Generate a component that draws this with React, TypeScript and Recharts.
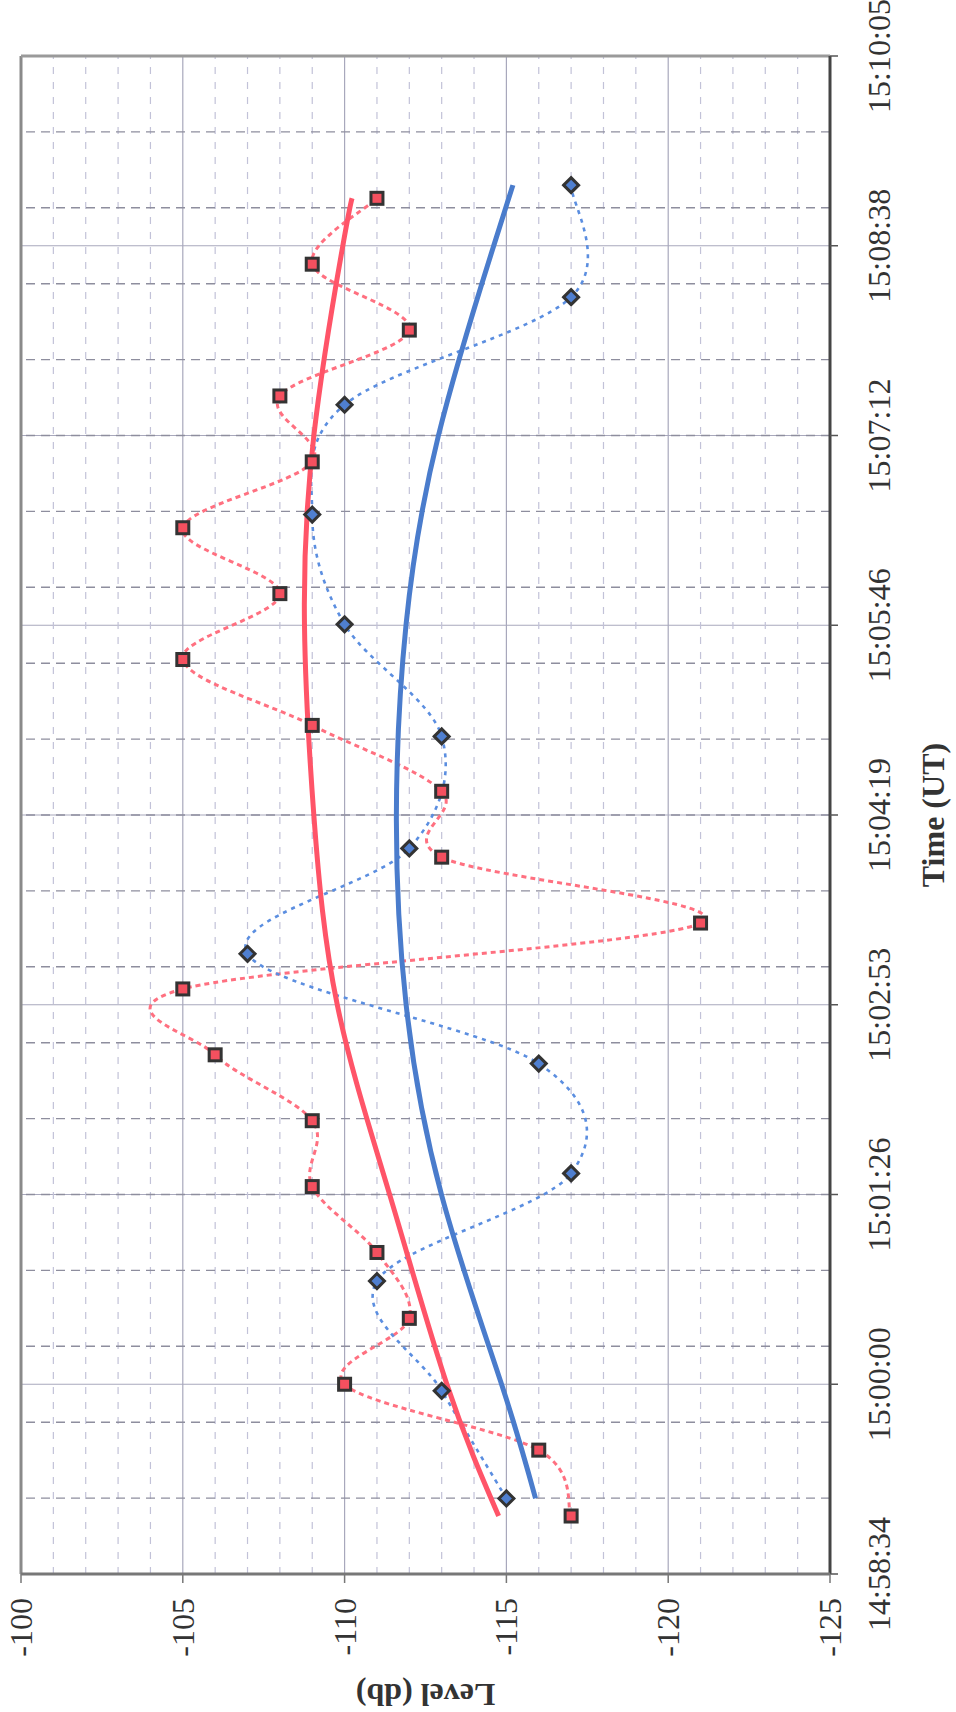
import React from "react";
import { ComposedChart, Line, XAxis, YAxis, CartesianGrid, ReferenceLine } from "recharts";

const redTimes = [
  "14:59:00", "14:59:30", "15:00:00", "15:00:30", "15:01:00", "15:01:30", "15:02:00",
  "15:02:30", "15:03:00", "15:03:30", "15:04:00", "15:04:30", "15:05:00", "15:05:30",
  "15:06:00", "15:06:30", "15:07:00", "15:07:30", "15:08:00", "15:08:30", "15:09:00",
];
const redLevels = [
  -117, -116, -110, -112, -111, -109, -109, -106, -105, -121, -113, -113, -109, -105,
  -108, -105, -109, -108, -112, -109, -111,
];

const blueTimes = [
  "14:59:08", "14:59:57", "15:00:47", "15:01:36", "15:02:26", "15:03:16", "15:04:04",
  "15:04:55", "15:05:46", "15:06:36", "15:07:26", "15:08:15", "15:09:06",
];
const blueLevels = [-115, -113, -111, -117, -116, -107, -112, -113, -110, -109, -110, -117, -117];

// polynomial trendlines
const redTrendTimes = ["14:59:00", "15:00:00", "15:01:26", "15:02:53", "15:04:19", "15:05:46", "15:07:12", "15:08:38", "15:09:00"];
const redTrendLevels = [-114.76, -113.16, -111.4, -109.77, -109.05, -108.76, -109.05, -109.94, -110.23];
const blueTrendTimes = ["14:59:08", "15:00:00", "15:01:26", "15:02:53", "15:04:19", "15:05:46", "15:07:12", "15:08:38", "15:09:06"];
const blueTrendLevels = [-115.9, -114.85, -113.0, -111.9, -111.6, -111.9, -112.9, -114.6, -115.2];

// axis: Excel day fractions
const majorDays = [0.624, 0.625, 0.626, 0.627, 0.628, 0.629, 0.63, 0.631, 0.632];
const minorDays = [
  0.6244, 0.6248, 0.6252, 0.6256, 0.626, 0.6264, 0.6268, 0.6272, 0.6276, 0.628,
  0.6284, 0.6288, 0.6292, 0.6296, 0.63, 0.6304, 0.6308, 0.6312, 0.6316,
];
const levelTicks = [-125, -120, -115, -110, -105, -100];
const levelMinor = [
  -124, -123, -122, -121, -119, -118, -117, -116, -114, -113, -112, -111,
  -109, -108, -107, -106, -104, -103, -102, -101,
];

const DAY = 86400;
const toSec = (s: string) => {
  const [h, m, x] = s.split(":").map(Number);
  return h * 3600 + m * 60 + x;
};
const fmt = (v: number) => {
  const s = Math.round(v);
  const p = (n: number) => String(n).padStart(2, "0");
  return `${p(Math.floor(s / 3600))}:${p(Math.floor((s % 3600) / 60))}:${p(s % 60)}`;
};
const zip = (ts: string[], vs: number[]) => ts.map((t, i) => ({ t: toSec(t), v: vs[i] }));

const red = zip(redTimes, redLevels);
const blue = zip(blueTimes, blueLevels);
const redTrend = zip(redTrendTimes, redTrendLevels);
const blueTrend = zip(blueTrendTimes, blueTrendLevels);
const majorSec = majorDays.map((d) => d * DAY);
const minorSec = minorDays.map((d) => d * DAY);

// Excel-like smoothed line (Catmull-Rom bezier)
function excelSmooth(ctx: any) {
  let pts: number[][] = [];
  return {
    areaStart() {},
    areaEnd() {},
    lineStart() {
      pts = [];
    },
    point(x: number, y: number) {
      pts.push([+x, +y]);
    },
    lineEnd() {
      if (!pts.length) return;
      ctx.moveTo(pts[0][0], pts[0][1]);
      for (let i = 0; i < pts.length - 1; i++) {
        const p0 = pts[i - 1] || pts[i];
        const p1 = pts[i];
        const p2 = pts[i + 1];
        const p3 = pts[i + 2] || p2;
        ctx.bezierCurveTo(
          p1[0] + (p2[0] - p0[0]) / 6,
          p1[1] + (p2[1] - p0[1]) / 6,
          p2[0] - (p3[0] - p1[0]) / 6,
          p2[1] - (p3[1] - p1[1]) / 6,
          p2[0],
          p2[1]
        );
      }
    },
  };
}

const font = "'Liberation Serif', 'Times New Roman', serif";

const Square = (props: any) => {
  const { cx, cy, index } = props;
  if (cx == null || cy == null) return null;
  return <rect key={`sq${index}`} x={cx - 6} y={cy - 6} width={12} height={12} fill="#f4505f" stroke="#333" strokeWidth={3} />;
};

const Diamond = (props: any) => {
  const { cx, cy, index } = props;
  if (cx == null || cy == null) return null;
  const r = 7.5;
  return (
    <polygon
      key={`dm${index}`}
      points={`${cx},${cy - r} ${cx + r},${cy} ${cx},${cy + r} ${cx - r},${cy}`}
      fill="#4f7fd0"
      stroke="#333"
      strokeWidth={3}
    />
  );
};

const TimeTick = (props: any) => {
  const { x, y, payload } = props;
  return (
    <text x={x} y={y} dy={22.7} textAnchor="middle" fontFamily={font} fontSize={32} fill="#333">
      {fmt(payload.value)}
    </text>
  );
};

const LevelTick = (props: any) => {
  const { x, y, payload } = props;
  return (
    <text x={x} y={y} dy={11} textAnchor="end" fontFamily={font} fontSize={32} fill="#333">
      {payload.value}
    </text>
  );
};

const XTitle = (props: any) => {
  const vb = props.viewBox;
  return (
    <text x={vb.x + vb.width / 2} y={vb.y + 114} textAnchor="middle" fontFamily={font} fontSize={32} fontWeight="bold" fill="#333">
      Time (UT)
    </text>
  );
};

const YTitle = (props: any) => {
  const vb = props.viewBox;
  const x = 28;
  const y = vb.y + vb.height / 2;
  return (
    <text x={x} y={y} transform={`rotate(-90, ${x}, ${y})`} textAnchor="middle" fontFamily={font} fontSize={32} fontWeight="bold" fill="#333">
      Level (db)
    </text>
  );
};

function App() {
  return (
    <div style={{ position: "absolute", left: 0, top: 0, width: 956, height: 1712, overflow: "hidden", background: "#fff" }}>
      <div
        style={{
          position: "absolute",
          left: 0,
          top: 0,
          width: 1712,
          height: 956,
          transformOrigin: "0 0",
          transform: "translate(0px, 1712px) rotate(-90deg)",
        }}
      >
        <ComposedChart width={1712} height={956} margin={{ top: 21, right: 56, bottom: 0, left: 0 }} style={{ fontFamily: font }}>
          <CartesianGrid stroke="#a8a8bc" strokeWidth={1.2} />
          {levelMinor.map((l) => (
            <ReferenceLine key={`l${l}`} y={l} stroke="#c2c2d8" strokeWidth={1.2} strokeDasharray="7 8" />
          ))}
          {minorSec.map((t) => (
            <ReferenceLine key={`t${t}`} x={t} stroke="#8e8e9e" strokeWidth={1.4} strokeDasharray="9 6" />
          ))}
          <ReferenceLine y={-100} stroke="#8a8a8a" strokeWidth={3} />
          <ReferenceLine x={majorSec[majorSec.length - 1]} stroke="#9a9a9a" strokeWidth={3} />
          <XAxis
            type="number"
            dataKey="t"
            domain={[majorSec[0], majorSec[majorSec.length - 1]]}
            ticks={majorSec}
            interval={0}
            allowDataOverflow
            height={126}
            tickSize={8}
            tickMargin={29}
            axisLine={{ stroke: "#444", strokeWidth: 3 }}
            tickLine={{ stroke: "#555", strokeWidth: 1.5 }}
            tick={<TimeTick />}
            label={{ content: <XTitle /> }}
          />
          <YAxis
            type="number"
            domain={[-125, -100]}
            ticks={levelTicks}
            interval={0}
            allowDataOverflow
            width={138}
            tickSize={9}
            tickMargin={15}
            axisLine={{ stroke: "#777", strokeWidth: 3 }}
            tickLine={{ stroke: "#777", strokeWidth: 1.5 }}
            tick={<LevelTick />}
            label={{ content: <YTitle /> }}
          />
          <Line data={red} dataKey="v" type={excelSmooth as any} stroke="#ff7080" strokeWidth={3} strokeDasharray="5 4" dot={false} activeDot={false} isAnimationActive={false} />
          <Line data={blue} dataKey="v" type={excelSmooth as any} stroke="#5b8ee0" strokeWidth={2.6} strokeDasharray="4 5" dot={false} activeDot={false} isAnimationActive={false} />
          <Line data={redTrend} dataKey="v" type="natural" stroke="#ff5468" strokeWidth={5} dot={false} activeDot={false} isAnimationActive={false} />
          <Line data={blueTrend} dataKey="v" type="natural" stroke="#4a7ccc" strokeWidth={5} dot={false} activeDot={false} isAnimationActive={false} />
          <Line data={red} dataKey="v" stroke="none" dot={<Square />} activeDot={false} isAnimationActive={false} />
          <Line data={blue} dataKey="v" stroke="none" dot={<Diamond />} activeDot={false} isAnimationActive={false} />
        </ComposedChart>
      </div>
    </div>
  );
}

export default App;
